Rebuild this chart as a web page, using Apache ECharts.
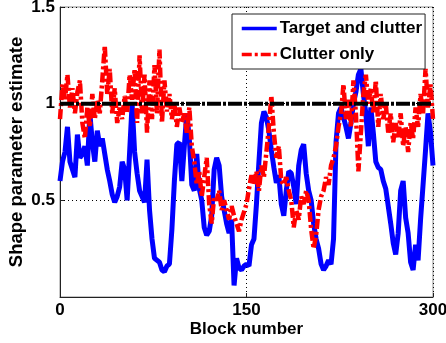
<!DOCTYPE html>
<html>
<head>
<meta charset="utf-8">
<script src="https://cdn.jsdelivr.net/npm/echarts@6/dist/echarts.min.js"></script>
<style>html,body{margin:0;padding:0;background:#fff}#c{width:446px;height:343px}</style>
</head>
<body>
<div id="c"></div>
<script>
// Block numbers (every 2nd block)
const blocks = Array.from({length: 151}, (_, i) => i * 2);
// Target and clutter
const targetAndClutter = [
0.60,0.70,0.75,0.88,0.70,0.66,0.62,0.84,0.72,0.74,
0.78,0.68,0.95,0.80,0.70,0.86,0.78,0.82,0.74,0.66,
0.60,0.53,0.49,0.52,0.57,0.70,0.66,0.50,0.75,1.00,
0.75,0.64,0.55,0.52,0.49,0.71,0.45,0.30,0.20,0.19,
0.18,0.14,0.13,0.16,0.17,0.35,0.60,0.79,0.80,0.60,
0.78,0.95,0.82,0.58,0.55,0.74,0.56,0.50,0.36,0.32,
0.34,0.42,0.66,0.72,0.68,0.52,0.45,0.38,0.33,0.40,
0.06,0.20,0.15,0.14,0.16,0.17,0.16,0.27,0.30,0.48,
0.70,0.90,0.96,0.93,0.86,0.76,0.67,0.59,0.63,0.48,
0.42,0.55,0.65,0.64,0.57,0.48,0.68,0.76,0.79,0.64,
0.55,0.50,0.38,0.30,0.25,0.17,0.14,0.16,0.19,0.17,
0.30,0.80,0.95,0.98,0.93,0.88,0.82,0.90,1.00,1.06,
1.15,1.18,1.05,0.95,0.78,0.98,0.85,0.70,0.67,0.66,
0.60,0.56,0.47,0.38,0.28,0.22,0.33,0.55,0.60,0.41,
0.33,0.18,0.14,0.27,0.19,0.40,0.58,0.76,0.95,0.85,
0.68];
// Clutter only
const clutterOnly = [
0.92,1.10,1.02,1.15,0.98,1.08,0.95,1.06,1.12,0.90,
0.82,0.98,0.88,1.05,0.92,1.02,0.95,1.12,1.30,1.05,
1.18,0.95,1.08,0.90,0.98,0.92,1.04,0.95,1.15,1.02,
1.18,0.90,1.25,0.95,1.15,0.85,1.12,0.92,1.20,0.95,
1.28,0.90,1.12,0.96,1.05,0.92,1.00,0.88,0.98,0.90,
0.95,0.85,0.98,0.78,0.70,0.58,0.65,0.52,0.62,0.72,
0.48,0.38,0.52,0.50,0.55,0.45,0.50,0.45,0.40,0.47,
0.42,0.38,0.34,0.40,0.44,0.48,0.56,0.63,0.58,0.65,
0.55,0.68,0.62,0.75,0.88,1.04,0.85,0.72,0.78,0.60,
0.58,0.62,0.55,0.50,0.36,0.45,0.40,0.52,0.48,0.55,
0.50,0.35,0.25,0.32,0.45,0.52,0.55,0.62,0.58,0.68,
0.72,0.78,0.88,0.95,1.10,0.92,1.02,0.88,1.12,0.95,
0.65,0.85,1.05,1.15,1.00,1.08,0.95,1.12,0.88,1.05,
0.92,1.00,0.85,0.95,0.80,0.90,0.82,0.95,0.78,0.88,
0.75,0.90,0.82,0.98,0.88,1.05,0.95,1.18,0.98,1.10,
0.92];
const referenceLevel = 1;
const refBlocks = [0, 300];
const xTicks = [0, 150, 300];
const yTicks = [0.5, 1, 1.5];

const font = 'Liberation Sans, Arial, sans-serif';
const chart = echarts.init(document.getElementById('c'));
chart.setOption({
  animation: false,
  grid: {left: 60, right: 13, top: 7, bottom: 46, show: true, borderColor: '#8c8c8c', borderWidth: 1,
         backgroundColor: '#fff', containLabel: false, outerBoundsMode: 'none'},
  legend: {
    data: ['Target and clutter', 'Clutter only'],
    orient: 'vertical', left: 232, top: 14,
    padding: [6, 3, 6, 8], itemGap: 9, itemWidth: 35, itemHeight: 14,
    backgroundColor: '#fff', borderColor: '#222', borderWidth: 1, borderRadius: 0,
    itemStyle: {opacity: 0},
    lineStyle: {width: 3.5},
    textStyle: {fontFamily: font, fontWeight: 'bold', fontSize: 17, color: '#000', padding: [0,0,0,-2]}
  },
  xAxis: {
    type: 'value', min: 0, max: 300, interval: 150,
    name: 'Block number', nameLocation: 'middle', nameGap: 24, nameMoveOverlap: false,
    nameTextStyle: {fontFamily: font, fontWeight: 'bold', fontSize: 17, color: '#000'},
    axisLine: {lineStyle: {color: '#222', width: 1}},
    axisTick: {inside: true, length: 4, lineStyle: {color: '#222'}},
    axisLabel: {fontFamily: font, fontWeight: 'bold', fontSize: 17, color: '#000', margin: 5,
      formatter: v => (xTicks.indexOf(v) >= 0 ? String(v) : '')},
    splitLine: {show: true, lineStyle: {color: '#000', type: [1, 3], width: 1}}
  },
  yAxis: {
    type: 'value', min: 0, max: 1.5, interval: 0.5,
    name: 'Shape parameter estimate', nameLocation: 'middle', nameGap: 34, nameMoveOverlap: false,
    nameTextStyle: {fontFamily: font, fontWeight: 'bold', fontSize: 18.5, color: '#000'},
    axisLine: {show: true, lineStyle: {color: '#222', width: 1}},
    axisTick: {show: true, inside: true, length: 4, lineStyle: {color: '#222'}},
    axisLabel: {fontFamily: font, fontWeight: 'bold', fontSize: 17, color: '#000', margin: 5,
      formatter: v => (yTicks.indexOf(v) >= 0 ? String(v) : '')},
    splitLine: {show: true, lineStyle: {color: '#000', type: [1, 3], width: 1}}
  },
  series: [
    {name: 'Target and clutter', type: 'line', symbol: 'none', z: 2,
     data: blocks.map((b, i) => [b, targetAndClutter[i]]),
     lineStyle: {color: '#0000ff', width: 5}, itemStyle: {color: '#0000ff'}},
    {name: 'Clutter only', type: 'line', symbol: 'none', z: 3,
     data: blocks.map((b, i) => [b, clutterOnly[i]]),
     lineStyle: {color: '#ff0000', width: 4.5, type: [10, 3, 3, 3]}, itemStyle: {color: '#ff0000'}},
    {name: 'Reference', type: 'line', symbol: 'none', z: 4,
     data: refBlocks.map(b => [b, referenceLevel]),
     lineStyle: {color: '#000', width: 4, type: [14, 2, 3, 2]}}
  ]
});
</script>
</body>
</html>
